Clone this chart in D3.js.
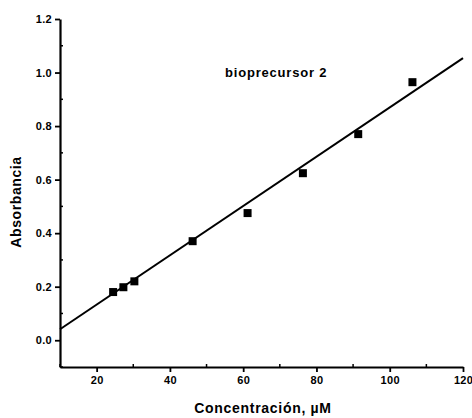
<!DOCTYPE html>
<html><head><meta charset="utf-8">
<script src="https://cdn.jsdelivr.net/npm/d3@7"></script>
<style>body{margin:0;background:#fff}svg{display:block}text{font-family:"Liberation Sans",Arial,sans-serif;font-weight:bold;fill:#000}</style>
</head><body>
<script>
const concX = [24.5, 27.3, 30.3, 46.2, 61.2, 76.3, 91.4, 106.2];
const absY = [0.18, 0.198, 0.22, 0.37, 0.475, 0.624, 0.77, 0.964];
const fitX = [10, 120];
const fitY = [0.041, 1.054];
const xTicks = [20, 40, 60, 80, 100, 120];
const yTicks = [0.0, 0.2, 0.4, 0.6, 0.8, 1.0, 1.2];
const xMinor = [10, 30, 50, 70, 90, 110];
const yMinor = [-0.1, 0.1, 0.3, 0.5, 0.7, 0.9, 1.1];

const W = 472, H = 418;
const svg = d3.select("body").append("svg").attr("width", W).attr("height", H);
const x = d3.scaleLinear().domain([10, 120]).range([60, 463]);
const y = d3.scaleLinear().domain([-0.1, 1.2]).range([367, 19]);

// minor ticks (inward)
svg.append("g").selectAll("line").data(xMinor).join("line")
  .attr("x1", d => x(d)).attr("x2", d => x(d)).attr("y1", 367).attr("y2", 364)
  .attr("stroke", "#000").attr("stroke-width", 1.5);
svg.append("g").selectAll("line").data(yMinor).join("line")
  .attr("y1", d => y(d)).attr("y2", d => y(d)).attr("x1", 60).attr("x2", 63)
  .attr("stroke", "#000").attr("stroke-width", 1.5);

const xAxis = svg.append("g").attr("transform", "translate(0,367)")
  .call(d3.axisBottom(x).tickValues(xTicks).tickSize(5).tickSizeOuter(0).tickPadding(4));
const yAxis = svg.append("g").attr("transform", "translate(60,0)")
  .call(d3.axisLeft(y).tickValues(yTicks).tickFormat(d3.format(".1f")).tickSize(5).tickSizeOuter(0).tickPadding(3));
[xAxis, yAxis].forEach(g => {
  g.select(".domain").attr("stroke-width", 2.2);
  g.selectAll(".tick line").attr("stroke-width", 1.8);
  g.selectAll("text").attr("font-size", 11).attr("letter-spacing", 0.3)
    .attr("font-family", "Liberation Sans, Arial, sans-serif").attr("font-weight", "bold");
});

// fit line
svg.append("path").datum(fitX.map((d, i) => [d, fitY[i]]))
  .attr("d", d3.line().x(d => x(d[0])).y(d => y(d[1])))
  .attr("fill", "none").attr("stroke", "#000").attr("stroke-width", 2);

// points
const s = 8;
svg.append("g").selectAll("rect").data(concX.map((d, i) => [d, absY[i]])).join("rect")
  .attr("x", d => x(d[0]) - s / 2).attr("y", d => y(d[1]) - s / 2)
  .attr("width", s).attr("height", s).attr("fill", "#000");

svg.append("text").attr("x", 225).attr("y", 77).attr("font-size", 13).attr("letter-spacing", 0.8).text("bioprecursor 2");
svg.append("text").attr("x", 263).attr("y", 413).attr("text-anchor", "middle").attr("font-size", 14).attr("letter-spacing", 0.7).text("Concentración, µM");
svg.append("text").attr("transform", "translate(21,202) rotate(-90)").attr("text-anchor", "middle").attr("font-size", 14).attr("letter-spacing", 0.6).text("Absorbancia");
</script>
</body></html>
